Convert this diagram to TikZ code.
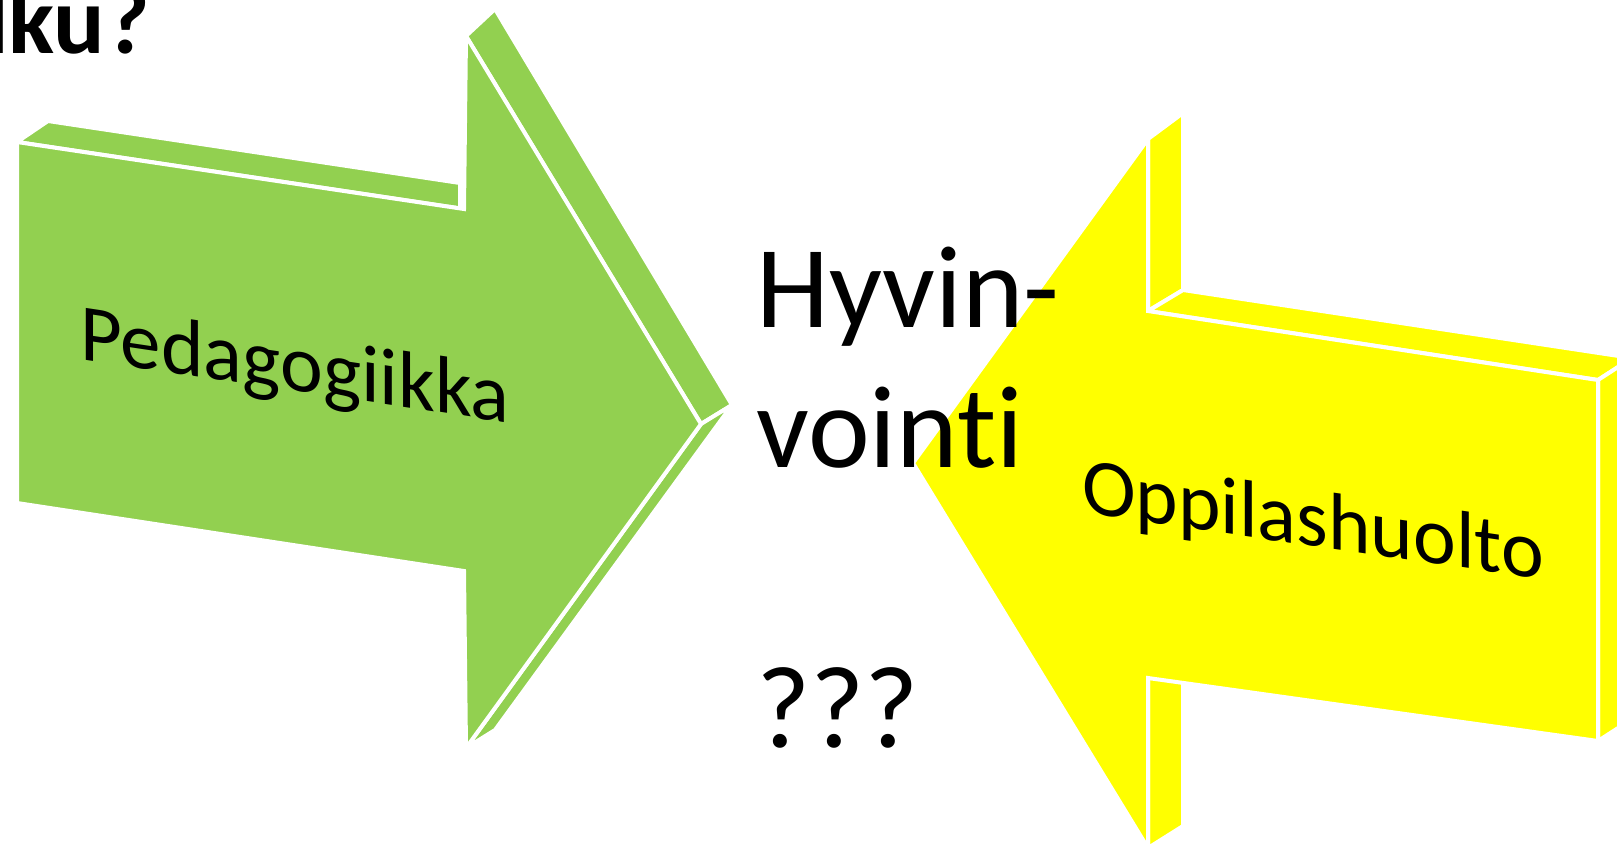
\documentclass[tikz,border=0pt]{standalone}
\usepackage{fontspec}
\setmainfont{Carlito}[Ligatures=NoCommon]
\definecolor{pgreen}{HTML}{92D050}
\definecolor{pyellow}{HTML}{FFFF00}
\begin{document}
\begin{tikzpicture}[x=0.5pt,y=-0.5pt,
  gface/.style={fill=pgreen, draw=white, line width=2pt, line join=miter},
  yface/.style={fill=pyellow, draw=white, line width=2pt, line join=miter},
  bigtext/.style={font=\fontsize{58.5pt}{70pt}\selectfont, anchor=base west, inner sep=0pt, text=black},
  arrowtext/.style={font=\fontsize{40.5pt}{48pt}\selectfont, anchor=base, inner sep=0pt, text=black},
  titletext/.style={font=\fontsize{48pt}{56pt}\bfseries\selectfont, anchor=base east, inner sep=0pt, text=black}]
\useasboundingbox (0,0) rectangle (1617,853);
\clip (0,0) rectangle (1617,853);
% ---------- green arrow (Pedagogiikka) ----------
\coordinate (gA) at (17,142);
\coordinate (gB) at (464,209);
\coordinate (gC) at (466,36);
\coordinate (gD) at (701,424);
\coordinate (gE) at (466,748);
\coordinate (gF) at (464,571);
\coordinate (gG) at (17,503);
\coordinate (gAb) at (48,121);
\coordinate (gBb) at (460,183);
\coordinate (gBf) at (460,208.4);
\coordinate (gCb) at (495,9);
\coordinate (gDb) at (732,405);
\coordinate (gEb) at (495,730);
\path[gface] (gA) -- (gBf) -- (gBb) -- (gAb) -- cycle;
\path[gface] (gC) -- (gD) -- (gDb) -- (gCb) -- cycle;
\path[gface] (gD) -- (gE) -- (gEb) -- (gDb) -- cycle;
\path[gface] (gA) -- (gB) -- (gC) -- (gD) -- (gE) -- (gF) -- (gG) -- cycle;
% ---------- yellow arrow (Oppilashuolto) ----------
\coordinate (yC) at (1148,139);
\coordinate (yB) at (1148,311);
\coordinate (yS) at (1598,380);
\coordinate (yT) at (1598,741);
\coordinate (yF) at (1148,678);
\coordinate (yE) at (1148,848);
\coordinate (yP) at (913,463);
\coordinate (yCb) at (1183,113);
\coordinate (yBb) at (1183,290);
\coordinate (ySb) at (1632,358);
\coordinate (yTb) at (1632,719);
\coordinate (yFb) at (1183,656);
\coordinate (yEb) at (1183,826);
\path[yface] (yC) -- (yB) -- (yBb) -- (yCb) -- cycle;
\path[yface] (yB) -- (yS) -- (ySb) -- (yBb) -- cycle;
\path[yface] (yS) -- (yT) -- (yTb) -- (ySb) -- cycle;
\path[yface] (yF) -- (yE) -- (yEb) -- (yFb) -- cycle;
\path[yface] (yC) -- (yB) -- (yS) -- (yT) -- (yF) -- (yE) -- (yP) -- cycle;
% ---------- texts ----------
\node[arrowtext, yslant=-0.149] (ped) at (295,391) {Pedagogiikka};
\node[arrowtext, yslant=-0.144] (opp) at (1313,546) {Oppilashuolto};
\node[bigtext] (hyvin) at (756,327) {Hyvin-};
\node[bigtext] (vointi) at (756,467) {vointi};
\node[bigtext] (qq) at (756,747) {???};
\node[titletext] (title) at (150,53) {lku?};
\end{tikzpicture}
\end{document}
